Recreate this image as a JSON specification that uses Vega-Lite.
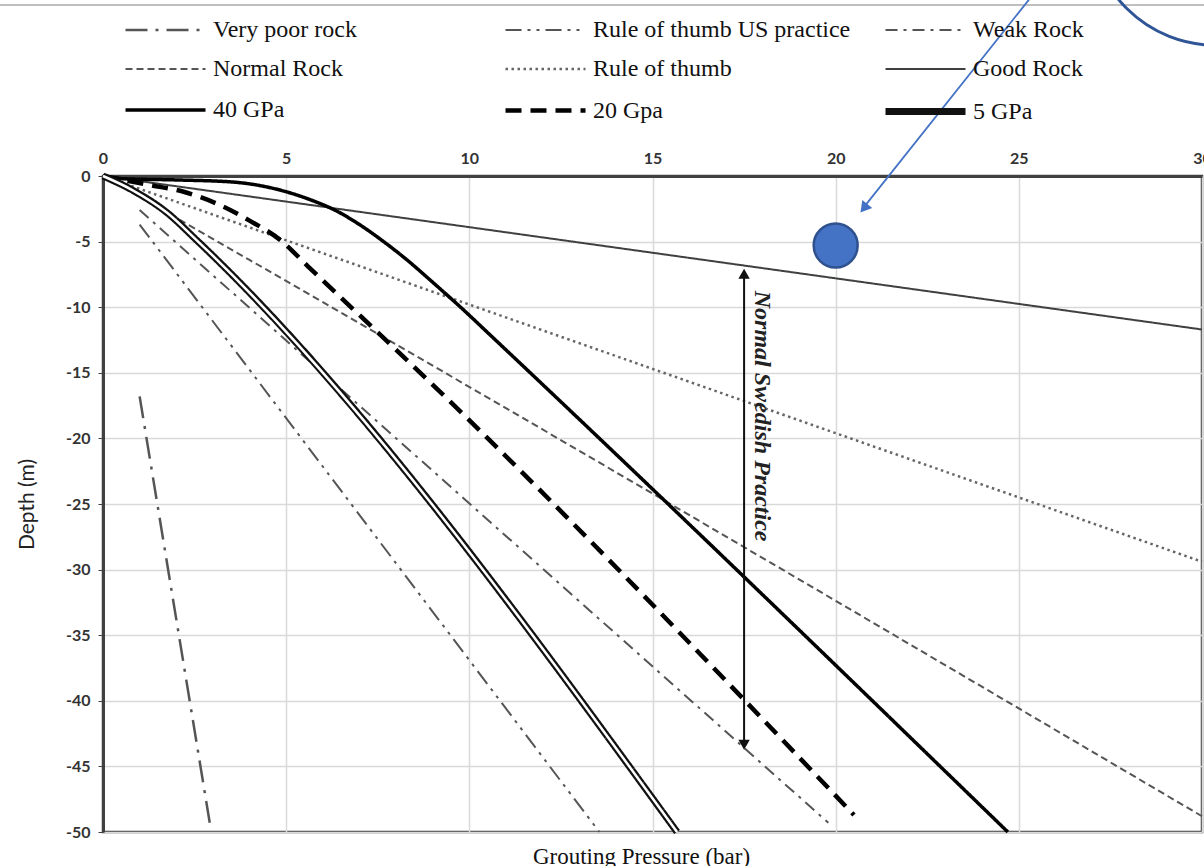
{
  "$schema": "https://vega.github.io/schema/vega-lite/v6.json",
  "width": 1099,
  "height": 656,
  "autosize": {"type": "none"},
  "padding": {"left": 103, "top": 176, "right": 2, "bottom": 34},
  "title": {
    "text": "Grouting Pressure (bar)",
    "orient": "bottom",
    "anchor": "middle",
    "frame": "group",
    "dx": -11,
    "offset": 0,
    "font": "Liberation Serif",
    "fontSize": 23,
    "fontWeight": "normal",
    "color": "#111111"
  },
  "config": {
    "view": {"stroke": "#404040", "strokeWidth": 2.5},
    "axis": {
      "gridColor": "#d9d9d9",
      "gridWidth": 1.5,
      "domainColor": "#404040",
      "domainWidth": 3,
      "tickColor": "#404040",
      "labelFont": "Lato",
      "labelFontWeight": "bold",
      "labelFontSize": 16,
      "labelColor": "#333333"
    },
    "legend": {
      "labelFont": "Liberation Serif",
      "labelFontSize": 24,
      "labelColor": "#111111",
      "labelLimit": 400
    }
  },
  "datasets": {
    "curves": [
      {"series": "Very poor rock", "x": 1.0, "y": -16.8},
      {"series": "Very poor rock", "x": 2.92, "y": -49.4},
      {"series": "Rule of thumb US practice", "x": 1.0, "y": -3.7},
      {"series": "Rule of thumb US practice", "x": 13.55, "y": -50},
      {"series": "Weak Rock", "x": 1.0, "y": -2.6},
      {"series": "Weak Rock", "x": 19.8, "y": -49.3},
      {"series": "Normal Rock", "x": 0, "y": 0},
      {"series": "Normal Rock", "x": 4.0, "y": -6.4},
      {"series": "Normal Rock", "x": 30, "y": -48.8},
      {"series": "Rule of thumb", "x": 0, "y": 0},
      {"series": "Rule of thumb", "x": 30, "y": -29.4},
      {"series": "Good Rock", "x": 0, "y": 0},
      {"series": "Good Rock", "x": 30, "y": -11.7},
      {"series": "40 GPa", "x": 0, "y": 0},
      {"series": "40 GPa", "x": 0.5, "y": -0.2},
      {"series": "40 GPa", "x": 2.0, "y": -0.3},
      {"series": "40 GPa", "x": 3.5, "y": -0.45},
      {"series": "40 GPa", "x": 4.0, "y": -0.6},
      {"series": "40 GPa", "x": 5.0, "y": -1.2},
      {"series": "40 GPa", "x": 5.65, "y": -1.8},
      {"series": "40 GPa", "x": 6.4, "y": -2.7},
      {"series": "40 GPa", "x": 7.0, "y": -3.7},
      {"series": "40 GPa", "x": 7.66, "y": -5.0},
      {"series": "40 GPa", "x": 8.3, "y": -6.4},
      {"series": "40 GPa", "x": 9.0, "y": -8.1},
      {"series": "40 GPa", "x": 9.8, "y": -10.1},
      {"series": "40 GPa", "x": 10.6, "y": -12.2},
      {"series": "40 GPa", "x": 24.7, "y": -50},
      {"series": "20 Gpa", "x": 0, "y": 0},
      {"series": "20 Gpa", "x": 1.3, "y": -0.7},
      {"series": "20 Gpa", "x": 2.2, "y": -1.2},
      {"series": "20 Gpa", "x": 3.1, "y": -2.1},
      {"series": "20 Gpa", "x": 4.0, "y": -3.4},
      {"series": "20 Gpa", "x": 4.85, "y": -4.9},
      {"series": "20 Gpa", "x": 5.6, "y": -6.9},
      {"series": "20 Gpa", "x": 7.0, "y": -10.6},
      {"series": "20 Gpa", "x": 8.4, "y": -14.3},
      {"series": "20 Gpa", "x": 20.5, "y": -48.7},
      {"series": "5 GPa", "x": 0, "y": 0},
      {"series": "5 GPa", "x": 0.8, "y": -1.07},
      {"series": "5 GPa", "x": 1.75, "y": -2.8},
      {"series": "5 GPa", "x": 2.56, "y": -4.9},
      {"series": "5 GPa", "x": 15.67, "y": -50}
    ],
    "arrowLine": [{"x": 17.5, "y": -7.3, "y2": -43.4}],
    "arrowHeads": [
      {"x": 17.5, "y": -7.45, "shape": "triangle-up"},
      {"x": 17.5, "y": -43.35, "shape": "triangle-down"}
    ],
    "label": [{"x": 18.0, "y": -18.3, "text": "Normal Swedish Practice"}],
    "topLine": [{"x": -3, "x2": 31, "y": 13.03}],
    "blueArrow": [{"x": 25.35, "y": 13.7, "x2": 20.75, "y2": -2.45}],
    "blueHead": [{"x": 20.77, "y": -2.46}],
    "blueDot": [{"x": 20, "y": -5.3}],
    "bigRing": [{"x": 30.36, "y": 19.5}]
  },
  "layer": [
    {
      "data": {"name": "topLine"},
      "mark": {"type": "rule", "color": "#bfbfbf", "strokeWidth": 2},
      "encoding": {
        "x": {"field": "x", "type": "quantitative"},
        "x2": {"field": "x2"},
        "y": {"field": "y", "type": "quantitative"}
      }
    },
    {
      "data": {"name": "curves"},
      "mark": {"type": "line", "interpolate": "monotone"},
      "encoding": {
        "x": {
          "field": "x",
          "type": "quantitative",
          "scale": {"domain": [0, 30], "nice": false},
          "axis": {
            "orient": "top",
            "values": [0, 5, 10, 15, 20, 25, 30],
            "ticks": false,
            "labelPadding": 10,
            "labelFlush": false,
            "title": null
          }
        },
        "y": {
          "field": "y",
          "type": "quantitative",
          "scale": {"domain": [-50, 0], "nice": false},
          "axis": {
            "values": [0, -5, -10, -15, -20, -25, -30, -35, -40, -45, -50],
            "labelExpr": "datum.value == 0 ? '0' : '-' + abs(datum.value)",
            "tickSize": 5,
            "labelPadding": 8,
            "title": "Depth (m)",
            "titleFont": "Lato",
            "titleFontSize": 21,
            "titleFontWeight": "normal",
            "titleColor": "#222222",
            "titlePadding": 28
          }
        },
        "color": {
          "field": "series",
          "type": "nominal",
          "scale": {
            "domain": ["Very poor rock", "Rule of thumb US practice", "Weak Rock", "Normal Rock", "Rule of thumb", "Good Rock", "40 GPa", "20 Gpa", "5 GPa"],
            "range": ["#555555", "#555555", "#555555", "#555555", "#666666", "#404040", "#000000", "#000000", "#111111"]
          },
          "legend": {
            "title": null,
            "orient": "none",
            "legendX": 79,
            "legendY": -160,
            "columns": 3,
            "direction": "horizontal",
            "gridAlign": "all",
            "columnPadding": 20,
            "rowPadding": 12,
            "symbolType": "M-7,0H1",
            "symbolSize": 400,
            "labelOffset": 4
          }
        },
        "strokeDash": {
          "field": "series",
          "type": "nominal",
          "scale": {
            "domain": ["Very poor rock", "Rule of thumb US practice", "Weak Rock", "Normal Rock", "Rule of thumb", "Good Rock", "40 GPa", "20 Gpa", "5 GPa"],
            "range": [[22, 8, 3, 8], [16, 6, 3, 6, 3, 6], [12, 6, 3, 6], [7, 4], [2.5, 3.5], [1, 0], [1, 0], [16, 9], [1, 0]]
          },
          "legend": {
            "title": null,
            "orient": "none",
            "legendX": 79,
            "legendY": -160,
            "columns": 3,
            "direction": "horizontal",
            "gridAlign": "all",
            "columnPadding": 20,
            "rowPadding": 12,
            "symbolType": "M-7,0H1",
            "symbolSize": 400,
            "labelOffset": 4
          }
        },
        "strokeWidth": {
          "field": "series",
          "type": "nominal",
          "scale": {
            "type": "ordinal",
            "domain": ["Very poor rock", "Rule of thumb US practice", "Weak Rock", "Normal Rock", "Rule of thumb", "Good Rock", "40 GPa", "20 Gpa", "5 GPa"],
            "range": [2.5, 2, 2, 2, 2.5, 2, 3.5, 4.5, 7]
          },
          "legend": {
            "title": null,
            "orient": "none",
            "legendX": 79,
            "legendY": -160,
            "columns": 3,
            "direction": "horizontal",
            "gridAlign": "all",
            "columnPadding": 20,
            "rowPadding": 12,
            "symbolType": "M-7,0H1",
            "symbolSize": 400,
            "labelOffset": 4
          }
        }
      }
    },
    {
      "data": {"name": "curves"},
      "transform": [{"filter": "datum.series == '5 GPa'"}],
      "mark": {"type": "line", "interpolate": "monotone", "color": "#ffffff", "strokeWidth": 2.5},
      "encoding": {
        "x": {"field": "x", "type": "quantitative"},
        "y": {"field": "y", "type": "quantitative"}
      }
    },
    {
      "data": {"name": "arrowLine"},
      "mark": {"type": "rule", "color": "#111111", "strokeWidth": 2},
      "encoding": {
        "x": {"field": "x", "type": "quantitative"},
        "y": {"field": "y", "type": "quantitative"},
        "y2": {"field": "y2"}
      }
    },
    {
      "data": {"name": "arrowHeads"},
      "mark": {"type": "point", "filled": true, "color": "#111111", "size": 130, "opacity": 1},
      "encoding": {
        "x": {"field": "x", "type": "quantitative"},
        "y": {"field": "y", "type": "quantitative"},
        "shape": {"field": "shape", "type": "nominal", "scale": null}
      }
    },
    {
      "data": {"name": "label"},
      "mark": {
        "type": "text",
        "angle": 90,
        "align": "center",
        "baseline": "middle",
        "font": "Liberation Serif",
        "fontSize": 24,
        "fontStyle": "italic",
        "fontWeight": "bold",
        "color": "#222222"
      },
      "encoding": {
        "x": {"field": "x", "type": "quantitative"},
        "y": {"field": "y", "type": "quantitative"},
        "text": {"field": "text"}
      }
    },
    {
      "data": {"name": "blueArrow"},
      "mark": {"type": "rule", "color": "#4472c4", "strokeWidth": 1.8},
      "encoding": {
        "x": {"field": "x", "type": "quantitative"},
        "y": {"field": "y", "type": "quantitative"},
        "x2": {"field": "x2"},
        "y2": {"field": "y2"}
      }
    },
    {
      "data": {"name": "blueHead"},
      "mark": {"type": "point", "shape": "triangle-up", "angle": 218.6, "filled": true, "color": "#4472c4", "size": 160, "opacity": 1},
      "encoding": {
        "x": {"field": "x", "type": "quantitative"},
        "y": {"field": "y", "type": "quantitative"}
      }
    },
    {
      "data": {"name": "blueDot"},
      "mark": {"type": "point", "shape": "circle", "filled": true, "fill": "#4472c4", "stroke": "#2f528f", "strokeWidth": 2.5, "size": 1936, "opacity": 1},
      "encoding": {
        "x": {"field": "x", "type": "quantitative"},
        "y": {"field": "y", "type": "quantitative"}
      }
    },
    {
      "data": {"name": "bigRing"},
      "mark": {"type": "point", "shape": "circle", "filled": false, "stroke": "#2f5597", "strokeWidth": 3, "size": 62500, "opacity": 1},
      "encoding": {
        "x": {"field": "x", "type": "quantitative"},
        "y": {"field": "y", "type": "quantitative"}
      }
    }
  ]
}
